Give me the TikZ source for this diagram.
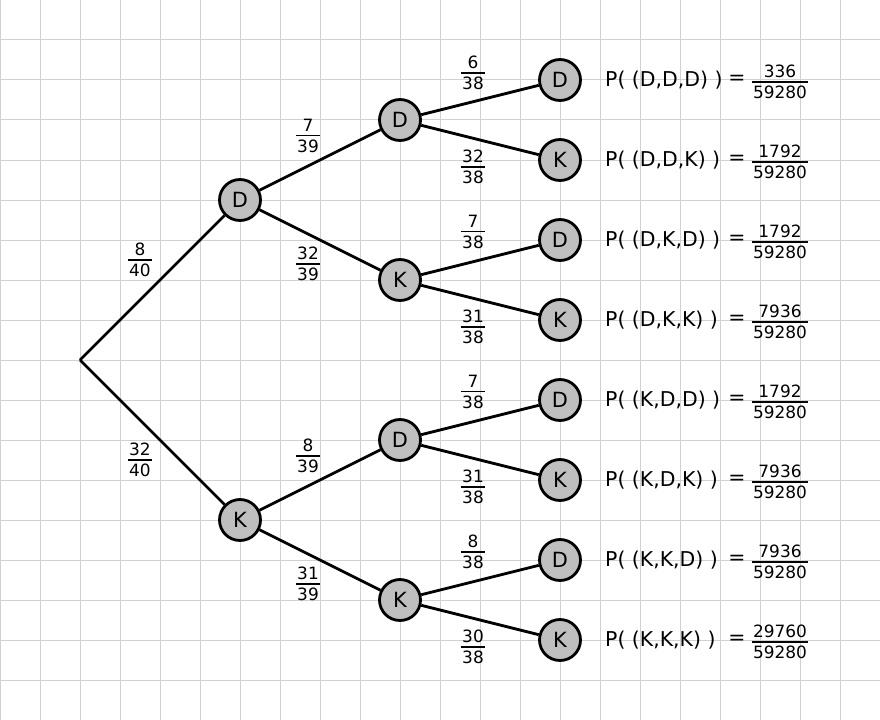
\documentclass[tikz,border=0pt]{standalone}
\usepackage{fontspec}
\setmainfont{DejaVu Sans}
\newcommand\fr[2]{\setbox0\hbox{#1}\setbox2\hbox{#2}%
  \dimen0=\ifdim\wd0>\wd2 \wd0\else\wd2\fi
  \advance\dimen0 by 2bp
  \vbox{\hbox to\dimen0{\hss\box0\hss}\kern3.6bp\hrule height 1.3bp\kern3.6bp\hbox to\dimen0{\hss\box2\hss}}}
\tikzset{
  ev/.style={circle, draw=black, line width=2.8bp, fill=black!25, minimum size=41bp, inner sep=0pt, font=\fontsize{21}{25}\selectfont},
  br/.style={line width=2.8bp, black},
  pl/.style={inner sep=0pt, font=\fontsize{17}{20}\selectfont},
  res/.style={inner sep=0pt, anchor=west, font=\fontsize{20.5}{24}\selectfont},
  eq/.style={inner sep=0pt, font=\fontsize{20.5}{24}\selectfont},
  gridline/.style={draw=black!18, line width=1bp}
}
\begin{document}
\begin{tikzpicture}[x=1bp,y=-1bp]
\useasboundingbox (0,0) rectangle (880,720);
\fill[white] (0,0) rectangle (880,720);
\foreach \i in {0,40,...,880} \draw[gridline] (\i,0) -- (\i,720);
\foreach \j in {0,40,...,720} \draw[gridline] (0,\j) -- (880,\j);

\coordinate (r) at (80,360);
\node[ev] (d) at (240,200) {D};
\node[ev] (k) at (240,520) {K};
\node[ev] (dd) at (400,120) {D};
\node[ev] (dk) at (400,280) {K};
\node[ev] (kd) at (400,440) {D};
\node[ev] (kk) at (400,600) {K};
\node[ev] (ddd) at (560,80) {D};
\node[ev] (ddk) at (560,160) {K};
\node[ev] (dkd) at (560,240) {D};
\node[ev] (dkk) at (560,320) {K};
\node[ev] (kdd) at (560,400) {D};
\node[ev] (kdk) at (560,480) {K};
\node[ev] (kkd) at (560,560) {D};
\node[ev] (kkk) at (560,640) {K};

\draw[br] (r) -- (d);
\draw[br] (r) -- (k);
\draw[br] (d) -- (dd);
\draw[br] (d) -- (dk);
\draw[br] (k) -- (kd);
\draw[br] (k) -- (kk);
\draw[br] (dd) -- (ddd);
\draw[br] (dd) -- (ddk);
\draw[br] (dk) -- (dkd);
\draw[br] (dk) -- (dkk);
\draw[br] (kd) -- (kdd);
\draw[br] (kd) -- (kdk);
\draw[br] (kk) -- (kkd);
\draw[br] (kk) -- (kkk);

\node[pl] (l1) at (140,260) {\fr{8}{40}};
\node[pl] (l2) at (140,460) {\fr{32}{40}};
\node[pl] (l3) at (308,136) {\fr{7}{39}};
\node[pl] (l4) at (308,264) {\fr{32}{39}};
\node[pl] (l5) at (308,456) {\fr{8}{39}};
\node[pl] (l6) at (308,584) {\fr{31}{39}};
\node[pl] (l7) at (473,73) {\fr{6}{38}};
\node[pl] (l8) at (473,167) {\fr{32}{38}};
\node[pl] (l9) at (473,232) {\fr{7}{38}};
\node[pl] (l10) at (473,327) {\fr{31}{38}};
\node[pl] (l11) at (473,392) {\fr{7}{38}};
\node[pl] (l12) at (473,487) {\fr{31}{38}};
\node[pl] (l13) at (473,552) {\fr{8}{38}};
\node[pl] (l14) at (473,647) {\fr{30}{38}};

\foreach \y/\t/\n/\nm in {80/{D,D,D}/336/a, 160/{D,D,K}/1792/b, 240/{D,K,D}/1792/c, 320/{D,K,K}/7936/d, 400/{K,D,D}/1792/e, 480/{K,D,K}/7936/f, 560/{K,K,D}/7936/g, 640/{K,K,K}/29760/h}{
  \node[res] (p\nm) at (605,\y) {P( (\t) )};
  \node[eq] (e\nm) at (737,\y) {=};
  \node[pl] (f\nm) at (780,\y+2) {\fr{\n}{59280}};
}
\end{tikzpicture}
\end{document}
